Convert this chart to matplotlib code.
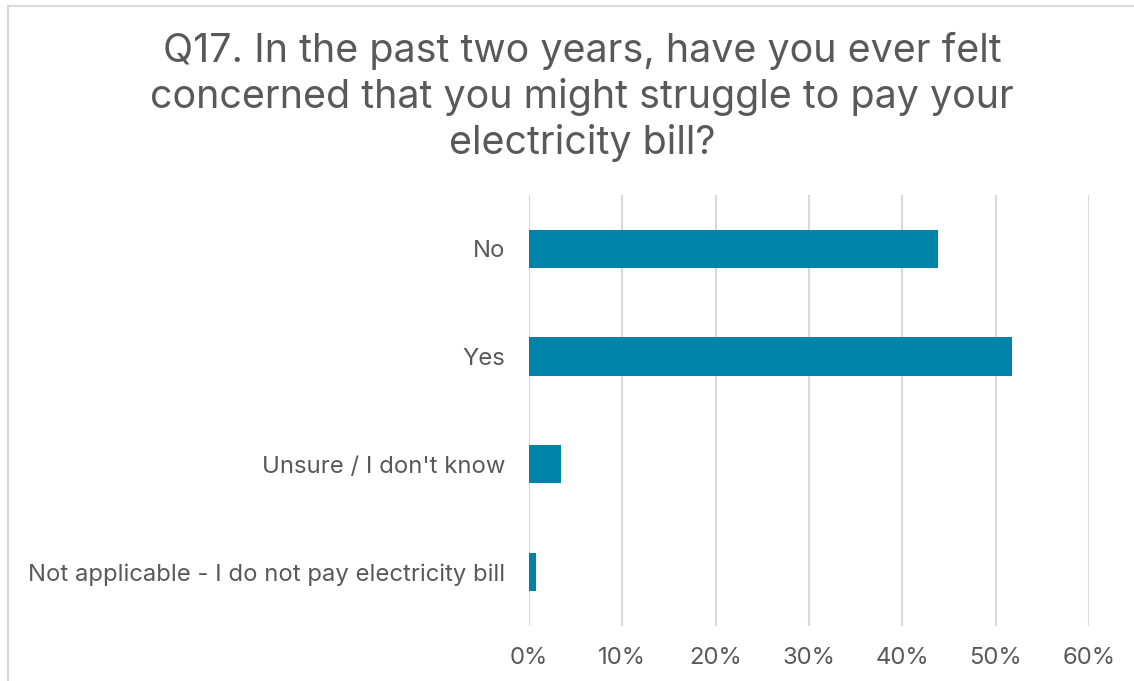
import matplotlib.pyplot as plt
from matplotlib.patches import Rectangle
from matplotlib.ticker import PercentFormatter

plt.rcParams['font.family'] = ['Inter', 'DejaVu Sans']

# survey answers, top to bottom
answers = ['No', 'Yes', "Unsure / I don't know", 'Not applicable - I do not pay electricity bill']
shares = [43.8, 51.8, 3.4, 0.8]

title = ('Q17. In the past two years, have you ever felt\n'
         'concerned that you might struggle to pay your\n'
         'electricity bill?')

text_grey = '#595959'
bar_blue = '#0083AB'

fig = plt.figure(figsize=(11.34, 6.81), dpi=100)
ax = fig.add_axes([0.4665, 0.0808, 0.9603 - 0.4665, 0.7137 - 0.0808])

pos = list(range(len(answers)))
ax.barh(pos, shares, height=0.355, color=bar_blue, zorder=3)

ax.set_ylim(len(answers) - 0.5, -0.5)
ax.set_yticks(pos)
ax.set_yticklabels(answers)
ax.set_xlim(0, 60)
ax.set_xticks(range(0, 61, 10))
ax.xaxis.set_major_formatter(PercentFormatter(decimals=0))

ax.grid(axis='x', color='#d9d9d9', linewidth=1.5, zorder=0)
for s in ax.spines.values():
    s.set_visible(False)
ax.tick_params(length=0, labelsize=17.2, labelcolor=text_grey)
ax.tick_params(axis='y', pad=17)
ax.tick_params(axis='x', pad=15)

fig.text(0.5135, 0.953, title, ha='center', va='top', fontsize=28.4,
         color=text_grey, linespacing=1.27)

# chart frame (runs off the right and bottom edges)
fig.patches.append(Rectangle((8 / 1134, -0.05), 1.2, 1 - 6 / 681 + 0.05,
                             transform=fig.transFigure, fill=False,
                             edgecolor='#d9d9d9', linewidth=1.5))

fig.savefig('out.png', dpi=100)
